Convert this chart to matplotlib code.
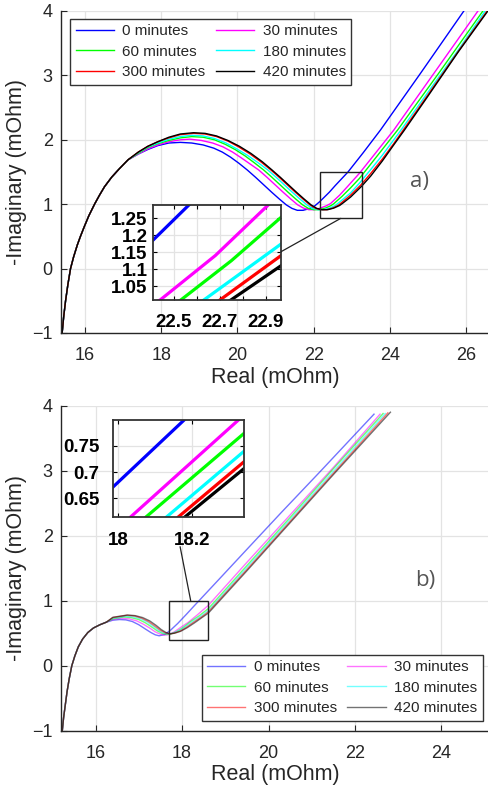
import matplotlib
matplotlib.use("Agg")
import matplotlib.pyplot as plt
from matplotlib.patches import Rectangle, ConnectionPatch

plt.rcParams['font.family'] = ['Liberation Sans', 'DejaVu Sans']

labels = ['0 minutes', '30 minutes', '60 minutes', '180 minutes', '300 minutes', '420 minutes']
colors = ['#0000ff', '#ff00ff', '#00ff00', '#00ffff', '#ff0000', '#000000']

# ---- panel a) ----
# steep start, shared by all six curves (they overlap there)
a_rise_x = [15.40, 15.44, 15.49, 15.55, 15.62, 15.70, 15.80, 15.88, 15.98, 16.10, 16.25, 16.38, 16.51, 16.70, 16.90, 17.13]
a_rise_y = [-1.0, -0.75, -0.5, -0.25, 0.0, 0.18, 0.37, 0.50, 0.65, 0.82, 1.00, 1.14, 1.27, 1.42, 1.55, 1.69]

a0_x = [17.40, 17.65, 17.91, 18.20, 18.50, 18.80, 19.10, 19.38, 19.60, 19.82, 20.04, 20.26, 20.48, 20.69, 20.90,
        21.10, 21.28, 21.43, 21.57, 21.72, 21.88, 22.03, 22.16, 22.41, 22.565, 22.90, 23.30, 23.75, 24.80, 25.94]
a0_y = [1.78, 1.85, 1.91, 1.95, 1.96, 1.95, 1.92, 1.87, 1.81, 1.73, 1.635, 1.53, 1.415, 1.30, 1.185,
        1.08, 0.99, 0.935, 0.905, 0.905, 0.93, 0.975, 1.04, 1.186, 1.289, 1.50, 1.80, 2.15, 3.03, 4.0]
a30_x = [17.40, 17.65, 17.91, 18.20, 18.50, 18.75, 19.05, 19.35, 19.62, 19.87, 20.10, 20.33, 20.56, 20.78, 20.99,
         21.20, 21.40, 21.58, 21.73, 21.87, 22.02, 22.18, 22.33, 22.44, 22.68, 22.91, 23.20, 23.55, 24.10, 25.20,
         26.31]
a30_y = [1.78, 1.86, 1.92, 1.97, 2.00, 2.01, 1.99, 1.95, 1.89, 1.81, 1.72, 1.625, 1.53, 1.415, 1.30,
         1.185, 1.08, 0.99, 0.94, 0.915, 0.915, 0.94, 0.975, 1.009, 1.14, 1.289, 1.48, 1.74, 2.15, 3.07,
         4.0]
a60_x = [17.40, 17.65, 17.91, 18.20, 18.50, 18.80, 19.10, 19.40, 19.68, 19.95, 20.20, 20.45, 20.69, 20.91, 21.12,
         21.33, 21.53, 21.71, 21.86, 22.00, 22.15, 22.31, 22.46, 22.53, 22.75, 22.97, 23.20, 23.60, 24.20, 25.30,
         26.44]
a60_y = [1.79, 1.88, 1.94, 1.99, 2.03, 2.05, 2.04, 2.00, 1.93, 1.845, 1.75, 1.64, 1.53, 1.415, 1.30,
         1.185, 1.08, 0.99, 0.935, 0.915, 0.915, 0.94, 0.98, 1.009, 1.125, 1.255, 1.40, 1.70, 2.15, 3.05,
         4.0]
a180_x = [17.40, 17.65, 17.91, 18.20, 18.50, 18.80, 19.10, 19.40, 19.70, 19.98, 20.26, 20.54, 20.80, 21.02, 21.23,
          21.44, 21.64, 21.82, 21.97, 22.11, 22.26, 22.42, 22.57, 22.63, 22.97, 23.22, 23.50, 23.80, 24.29, 25.00,
          25.80, 26.50]
a180_y = [1.80, 1.89, 1.95, 2.01, 2.05, 2.07, 2.06, 2.02, 1.95, 1.86, 1.76, 1.645, 1.53, 1.415, 1.30,
          1.185, 1.08, 0.99, 0.935, 0.915, 0.915, 0.94, 0.98, 1.009, 1.176, 1.34, 1.54, 1.76, 2.15, 2.74,
          3.40, 4.0]
a300_x = [17.40, 17.65, 17.91, 18.20, 18.50, 18.85, 19.15, 19.45, 19.75, 20.03, 20.33, 20.62, 20.88, 21.10, 21.31,
          21.52, 21.72, 21.90, 22.05, 22.19, 22.34, 22.50, 22.65, 22.70, 22.97, 23.24, 23.50, 23.80, 24.10, 24.36,
          25.00, 25.80, 26.55]
a300_y = [1.81, 1.90, 1.97, 2.03, 2.08, 2.10, 2.09, 2.05, 1.98, 1.89, 1.78, 1.655, 1.53, 1.415, 1.30,
          1.185, 1.08, 0.99, 0.935, 0.915, 0.915, 0.94, 0.985, 1.009, 1.142, 1.30, 1.48, 1.70, 1.94, 2.16,
          2.70, 3.38, 4.0]
a420_x = [17.40, 17.65, 17.91, 18.20, 18.50, 18.85, 19.15, 19.45, 19.75, 20.05, 20.35, 20.65, 20.91, 21.13, 21.34,
          21.55, 21.75, 21.93, 22.08, 22.22, 22.37, 22.53, 22.68, 22.75, 22.97, 23.26, 23.50, 23.80, 24.10, 24.38,
          25.00, 25.80, 26.57]
a420_y = [1.81, 1.90, 1.97, 2.04, 2.09, 2.11, 2.10, 2.06, 1.99, 1.90, 1.79, 1.66, 1.53, 1.415, 1.30,
          1.185, 1.08, 0.99, 0.935, 0.915, 0.915, 0.94, 0.98, 1.01, 1.112, 1.28, 1.44, 1.67, 1.92, 2.15,
          2.68, 3.37, 4.0]

# ---- panel b) ----
b_rise_x = [15.23, 15.26, 15.30, 15.34, 15.39, 15.45, 15.52, 15.60, 15.70, 15.82, 15.95, 16.10, 16.25]
b_rise_y = [-1.0, -0.8, -0.6, -0.4, -0.2, 0.0, 0.15, 0.29, 0.41, 0.51, 0.58, 0.63, 0.67]

b0_x = [16.40, 16.55, 16.70, 16.85, 17.00, 17.15, 17.28, 17.38, 17.47, 17.60, 17.74, 17.90, 18.10, 18.28, 18.80,
        19.50, 20.30, 21.20, 22.44]
b0_y = [0.70, 0.71, 0.705, 0.68, 0.63, 0.565, 0.51, 0.475, 0.46, 0.48, 0.55, 0.65, 0.79, 0.92, 1.29,
        1.79, 2.36, 2.99, 3.87]
b30_x = [16.40, 16.60, 16.78, 16.95, 17.10, 17.25, 17.38, 17.50, 17.60, 17.70, 17.82, 17.97, 18.15, 18.35, 18.61,
         19.50, 20.50, 21.50, 22.58]
b30_y = [0.71, 0.73, 0.72, 0.69, 0.64, 0.58, 0.52, 0.485, 0.47, 0.48, 0.52, 0.59, 0.67, 0.78, 0.93,
         1.59, 2.32, 3.05, 3.87]
b60_x = [16.40, 16.65, 16.82, 17.00, 17.15, 17.30, 17.43, 17.55, 17.65, 17.75, 17.88, 18.03, 18.20, 18.40, 18.61,
         19.50, 20.50, 21.50, 22.65]
b60_y = [0.72, 0.75, 0.74, 0.71, 0.66, 0.595, 0.535, 0.495, 0.48, 0.49, 0.525, 0.59, 0.68, 0.77, 0.88,
         1.54, 2.28, 3.03, 3.88]
b180_x = [16.40, 16.70, 16.88, 17.05, 17.20, 17.35, 17.47, 17.58, 17.68, 17.78, 17.92, 18.08, 18.25, 18.43, 18.61,
          19.50, 20.50, 21.50, 22.70]
b180_y = [0.73, 0.76, 0.75, 0.72, 0.67, 0.60, 0.54, 0.50, 0.49, 0.50, 0.535, 0.60, 0.68, 0.76, 0.85,
          1.51, 2.25, 2.99, 3.88]
b300_x = [16.40, 16.72, 16.90, 17.07, 17.22, 17.37, 17.50, 17.61, 17.71, 17.81, 17.95, 18.10, 18.27, 18.45, 18.61,
          19.50, 20.50, 21.50, 22.76]
b300_y = [0.74, 0.775, 0.765, 0.73, 0.68, 0.61, 0.545, 0.505, 0.49, 0.50, 0.53, 0.59, 0.67, 0.75, 0.83,
          1.48, 2.22, 2.96, 3.89]
b420_x = [16.40, 16.74, 16.92, 17.09, 17.25, 17.40, 17.52, 17.63, 17.73, 17.83, 17.97, 18.12, 18.29, 18.46, 18.61,
          19.50, 20.50, 21.50, 22.82]
b420_y = [0.745, 0.78, 0.77, 0.74, 0.69, 0.62, 0.555, 0.51, 0.49, 0.50, 0.53, 0.585, 0.66, 0.74, 0.81,
          1.46, 2.20, 2.94, 3.90]

# inset of panel b) (values as printed on the inset axes)
zb0_x, zb0_y = [17.986, 18.179], [0.672, 0.799]
zb30_x, zb30_y = [18.034, 18.327], [0.615, 0.799]
zb60_x, zb60_y = [18.076, 18.343], [0.615, 0.774]
zb180_x, zb180_y = [18.132, 18.343], [0.615, 0.740]
zb300_x, zb300_y = [18.164, 18.343], [0.615, 0.720]
zb420_x, zb420_y = [18.182, 18.343], [0.615, 0.707]

a_tails = [(a0_x, a0_y), (a30_x, a30_y), (a60_x, a60_y), (a180_x, a180_y), (a300_x, a300_y), (a420_x, a420_y)]
b_tails = [(b0_x, b0_y), (b30_x, b30_y), (b60_x, b60_y), (b180_x, b180_y), (b300_x, b300_y), (b420_x, b420_y)]
a_curves = [(a_rise_x + x, a_rise_y + y) for x, y in a_tails]
b_curves = [(b_rise_x + x, b_rise_y + y) for x, y in b_tails]
zb_curves = [(zb0_x, zb0_y), (zb30_x, zb30_y), (zb60_x, zb60_y), (zb180_x, zb180_y), (zb300_x, zb300_y),
             (zb420_x, zb420_y)]

# zoom boxes drawn on the main axes: (x0, x1, y0, y1)
box_a = (22.16, 23.26, 0.78, 1.50)
box_b = (17.70, 18.61, 0.39, 1.00)

ink = '#262626'
gridc = '#e3e3e3'

fig = plt.figure(figsize=(4.89, 7.98), dpi=100)


def style_main(ax, xlim, xticks):
    ax.set_xlim(*xlim)
    ax.set_ylim(-1, 4)
    ax.set_xticks(xticks)
    ax.set_yticks(range(-1, 5))
    ax.grid(True, color=gridc, lw=0.9)
    ax.set_axisbelow(True)
    for s in ['top', 'right']:
        ax.spines[s].set_visible(False)
    for s in ['left', 'bottom']:
        ax.spines[s].set_color(ink)
        ax.spines[s].set_linewidth(1.0)
    ax.tick_params(direction='in', length=4, width=0.8, colors=ink, labelsize=13)
    ax.tick_params(axis='x', pad=10)
    ax.tick_params(axis='y', pad=6)
    ax.set_xlabel('Real (mOhm)', fontsize=15.5, color=ink, labelpad=2)
    ax.set_ylabel('-Imaginary (mOhm)', fontsize=15.5, color=ink, labelpad=4)


def style_inset(ax, xlim, ylim, xticks, xlabels, yticks, ylabels, xpad, ypad):
    ax.set_xlim(*xlim)
    ax.set_ylim(*ylim)
    ax.set_xticks(xticks)
    ax.set_xticklabels(xlabels, fontweight='bold', fontsize=13.5)
    ax.set_yticks(yticks)
    ax.set_yticklabels(ylabels, fontweight='bold', fontsize=13.5)
    ax.grid(True, color=gridc, lw=0.9)
    ax.set_axisbelow(True)
    for s in ax.spines.values():
        s.set_color('#333333')
        s.set_linewidth(1.3)
    ax.tick_params(direction='in', length=3, width=0.8, top=True, right=True, colors='black')
    ax.tick_params(axis='x', pad=xpad)
    ax.tick_params(axis='y', pad=ypad)


# ---------- panel a ----------
ax1 = fig.add_axes([61 / 489, 465 / 798, 428 / 489, 322 / 798])
handles = []
for (x, y), c, lab in zip(a_curves, colors, labels):
    h, = ax1.plot(x, y, color=c, lw=1.0, label=lab)
    handles.append(h)
style_main(ax1, (15.37, 26.6), range(16, 27, 2))
x0, x1, y0, y1 = box_a
ax1.add_patch(Rectangle((x0, y0), x1 - x0, y1 - y0, fill=False, ec='#222222', lw=1.0, zorder=5))
ax1.text(0.857, 0.772, 'a)', transform=fig.transFigure, fontsize=16, color='#555555',
         family=['Open Sans', 'DejaVu Sans'], ha='center', va='center')
order = [0, 2, 4, 1, 3, 5]
leg = ax1.legend([handles[i] for i in order], [labels[i] for i in order], ncol=2, fontsize=11,
                 loc='upper left', bbox_to_anchor=(70.5 / 489, 1 - 19 / 798), bbox_transform=fig.transFigure,
                 borderaxespad=0, fancybox=False, framealpha=1, edgecolor='#333333', handlelength=2.5,
                 handletextpad=0.55, columnspacing=0.7, labelspacing=0.42, borderpad=0.35)
leg.get_frame().set_linewidth(1.0)
for t in leg.get_texts():
    t.set_color(ink)

ins1 = fig.add_axes([153 / 489, 1 - 300 / 798, 128.3 / 489, 95 / 798])
for (x, y), c in zip(a_curves, colors):
    ins1.plot(x, y, color=c, lw=2.3)
style_inset(ins1, (22.409, 22.967), (1.009, 1.289),
            [22.5, 22.6, 22.7, 22.8, 22.9], ['22.5', '', '22.7', '', '22.9'],
            [1.05, 1.1, 1.15, 1.2, 1.25], ['1.05', '1.1', '1.15', '1.2', '1.25'], 10, 4)
con = ConnectionPatch(xyA=(1.0, 0.51), coordsA=ins1.transAxes, xyB=(22.71, box_a[2]), coordsB=ax1.transData,
                      color='#222222', lw=0.9)
fig.add_artist(con)

# ---------- panel b ----------
ax2 = fig.add_axes([61 / 489, 67.3 / 798, 428 / 489, 325 / 798])
handles2 = []
for (x, y), c, lab in zip(b_curves, colors, labels):
    h, = ax2.plot(x, y, color=c, lw=1.0, alpha=0.55, label=lab)
    handles2.append(h)
style_main(ax2, (15.2, 25.1), range(16, 25, 2))
x0, x1, y0, y1 = box_b
ax2.add_patch(Rectangle((x0, y0), x1 - x0, y1 - y0, fill=False, ec='#222222', lw=1.0, zorder=5))
ax2.text(0.869, 0.273, 'b)', transform=fig.transFigure, fontsize=16, color='#555555',
         family=['Open Sans', 'DejaVu Sans'], ha='center', va='center')
leg2 = ax2.legend([handles2[i] for i in order], [labels[i] for i in order], ncol=2, fontsize=11,
                  loc='upper left', bbox_to_anchor=(201.7 / 489, 1 - 655 / 798), bbox_transform=fig.transFigure,
                  borderaxespad=0, fancybox=False, framealpha=1, edgecolor='#333333', handlelength=2.5,
                  handletextpad=0.55, columnspacing=0.7, labelspacing=0.42, borderpad=0.35)
leg2.get_frame().set_linewidth(1.0)
for t in leg2.get_texts():
    t.set_color(ink)

ins2 = fig.add_axes([113.3 / 489, 1 - 516.7 / 798, 131 / 489, 96.7 / 798])
for (x, y), c in zip(zb_curves, colors):
    ins2.plot(x, y, color=c, lw=2.3)
style_inset(ins2, (17.986, 18.343), (0.615, 0.799),
            [18.0, 18.2], ['18', '18.2'],
            [0.65, 0.7, 0.75], ['0.65', '0.7', '0.75'], 11, 10)
con2 = ConnectionPatch(xyA=(0.51, -0.31), coordsA=ins2.transAxes, xyB=(18.2, box_b[3]), coordsB=ax2.transData,
                       color='#222222', lw=0.9)
fig.add_artist(con2)

fig.savefig('out.png', dpi=100)
